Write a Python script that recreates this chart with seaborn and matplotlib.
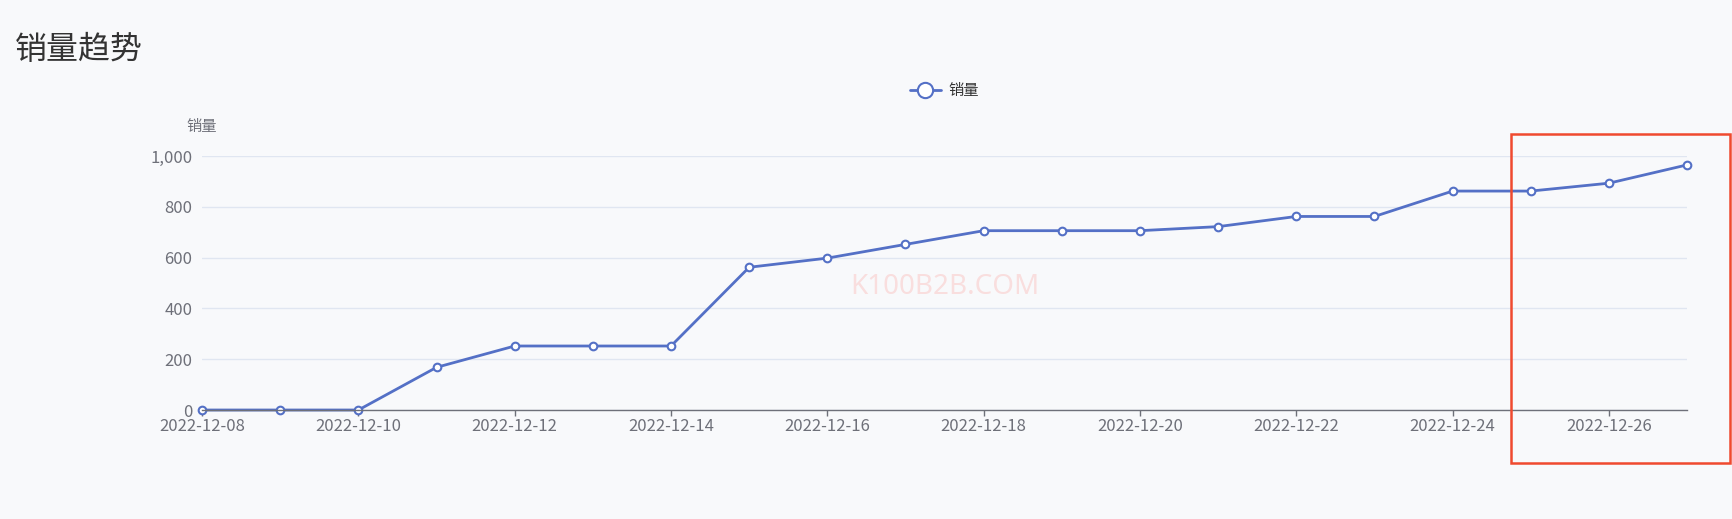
import pandas as pd
import seaborn as sns
import matplotlib.pyplot as plt
from matplotlib.patches import Rectangle

# 数据
dates = ['2022-12-08', '2022-12-09', '2022-12-10', '2022-12-11', '2022-12-12',
         '2022-12-13', '2022-12-14', '2022-12-15', '2022-12-16', '2022-12-17',
         '2022-12-18', '2022-12-19', '2022-12-20', '2022-12-21', '2022-12-22',
         '2022-12-23', '2022-12-24', '2022-12-25', '2022-12-26', '2022-12-27']
sales = [0, 0, 0, 168, 252, 252, 252, 562, 598, 652,
         706, 706, 706, 722, 762, 762, 862, 862, 893, 965]
y_ticks = [0, 200, 400, 600, 800, 1000]
y_tick_labels = ['0', '200', '400', '600', '800', '1,000']

df = pd.DataFrame({'date': pd.to_datetime(dates), 'sales': sales})

bg = '#f8f9fb'
line_color = '#5470C6'
axis_color = '#6E7079'

sns.set_theme(style='white')
plt.rcParams['font.family'] = ['Noto Sans CJK SC', 'DejaVu Sans']

fig = plt.figure(figsize=(17.33, 5.19), dpi=100, facecolor=bg)
ax = fig.add_axes([0.1166, 0.21, 0.9735 - 0.1166, 0.6994 - 0.21])
ax.set_facecolor(bg)

sns.lineplot(x='date', y='sales', data=df, color=line_color, linewidth=2.0,
             marker='o', markersize=5.5, markerfacecolor='white',
             markeredgecolor=line_color, markeredgewidth=1.5,
             label='销量', clip_on=False, ax=ax)

ax.set_xlim(df['date'].iloc[0], df['date'].iloc[-1])
ax.set_ylim(0, 1000)
ax.set_yticks(y_ticks)
ax.set_yticklabels(y_tick_labels)
ax.set_xticks(df['date'].iloc[::2])
ax.set_xticklabels(dates[::2])

ax.grid(axis='y', color='#E0E6F1', linewidth=1)
ax.grid(axis='x', visible=False)
for s in ['top', 'right', 'left']:
    ax.spines[s].set_visible(False)
ax.spines['bottom'].set_color(axis_color)
ax.spines['bottom'].set_linewidth(1)
ax.tick_params(axis='x', colors=axis_color, labelsize=12, length=4, width=1,
               direction='out', pad=2, bottom=True)
ax.tick_params(axis='y', colors=axis_color, labelsize=12, length=0, pad=7)
ax.set_xlabel('')
ax.set_ylabel('')

# 轴名
fig.text(202 / 1733, 1 - 127 / 519, '销量', fontsize=11, color=axis_color,
         ha='center', va='center')

# 标题
fig.text(15 / 1733, 1 - 50 / 519, '销量趋势', fontsize=23, color='#333333',
         ha='left', va='center')

# 图例
ax.legend(loc='center', bbox_to_anchor=(0.545, 1 - 91 / 519),
          bbox_transform=fig.transFigure, frameon=False, fontsize=11,
          markerscale=2.0, handlelength=2.0, handletextpad=0.5,
          labelcolor='#333333')

# 水印
fig.text(945 / 1733, 1 - 287 / 519, 'K100B2B.COM', fontsize=20,
         color='#f9dede', ha='center', va='center', family=['Noto Sans', 'DejaVu Sans'])

# 红框
fig.patches.append(Rectangle((1511 / 1733, 1 - 463 / 519), (1730 - 1511) / 1733,
                             (463 - 134) / 519, transform=fig.transFigure,
                             fill=False, edgecolor='#f04a2f', linewidth=1.8))

fig.savefig('out.png', dpi=100, facecolor=bg)
